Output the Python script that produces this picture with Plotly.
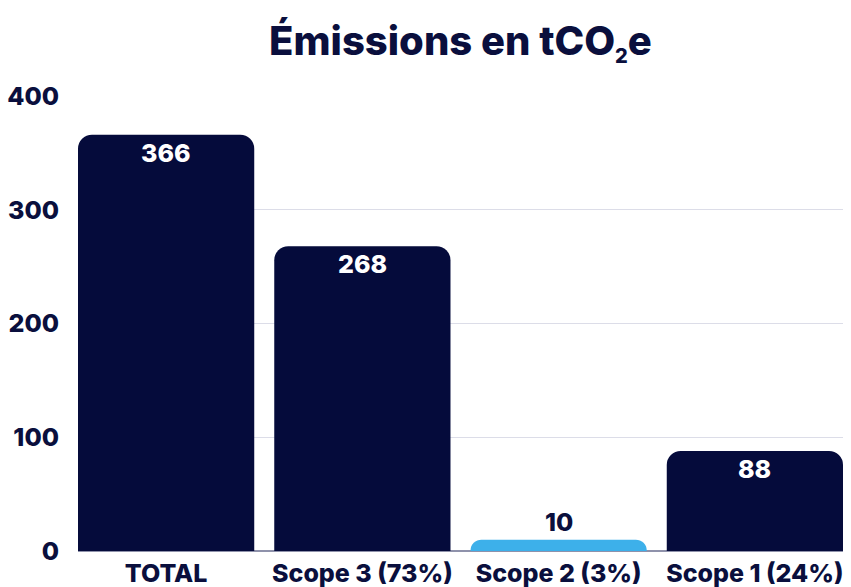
import plotly.graph_objects as go

categories = ["TOTAL", "Scope 3 (73%)", "Scope 2 (3%)", "Scope 1 (24%)"]
values = [366, 268, 10, 88]
colors = ["#050b3b", "#050b3b", "#3db0ea", "#050b3b"]
label_inside = [True, True, False, True]
y_ticks = [0, 100, 200, 300, 400]

NAVY = "#0a0f3d"
FONT = "Inter"
W = 800

fig = go.Figure(
    go.Bar(
        x=categories,
        y=values,
        marker=dict(color=colors, cornerradius=14, line=dict(width=0)),
        hoverinfo="skip",
    )
)

for c, v, inside in zip(categories, values, label_inside):
    fig.add_annotation(
        x=c, y=v, text=str(v), showarrow=False,
        yanchor="top" if inside else "bottom",
        yshift=-1 if inside else 1,
        font=dict(family=FONT, size=25, weight=W, color="white" if inside else NAVY),
    )

fig.update_layout(
    width=851, height=587,
    margin=dict(l=78, r=8, t=96, b=36),
    paper_bgcolor="white", plot_bgcolor="white",
    bargap=0.102,
    showlegend=False,
    font=dict(family=FONT, size=25, color=NAVY),
    title=dict(
        text="Émissions en tCO<sub><span style='font-size:20px'>2</span></sub>e",
        x=0.5, xref="paper", xanchor="center",
        y=0.93, yref="container", yanchor="middle",
        font=dict(family=FONT, size=40, weight=W, color=NAVY),
    ),
    xaxis=dict(
        range=[-0.449, 3.449],
        tickfont=dict(family=FONT, size=25, color=NAVY, weight=W),
        showgrid=False, showline=False, zeroline=False, ticks="",
        ticklabelstandoff=5, automargin=False,
        fixedrange=True,
    ),
    yaxis=dict(
        range=[0, 400], tickvals=y_ticks,
        tickfont=dict(family=FONT, size=25, color=NAVY, weight=W),
        showgrid=True, gridcolor="#dcdde8", gridwidth=1,
        zeroline=True, zerolinecolor="#8f92ab", zerolinewidth=2,
        showline=False, ticks="", ticklabelstandoff=18, automargin=False,
        fixedrange=True,
    ),
)

fig.write_html("out.html")
